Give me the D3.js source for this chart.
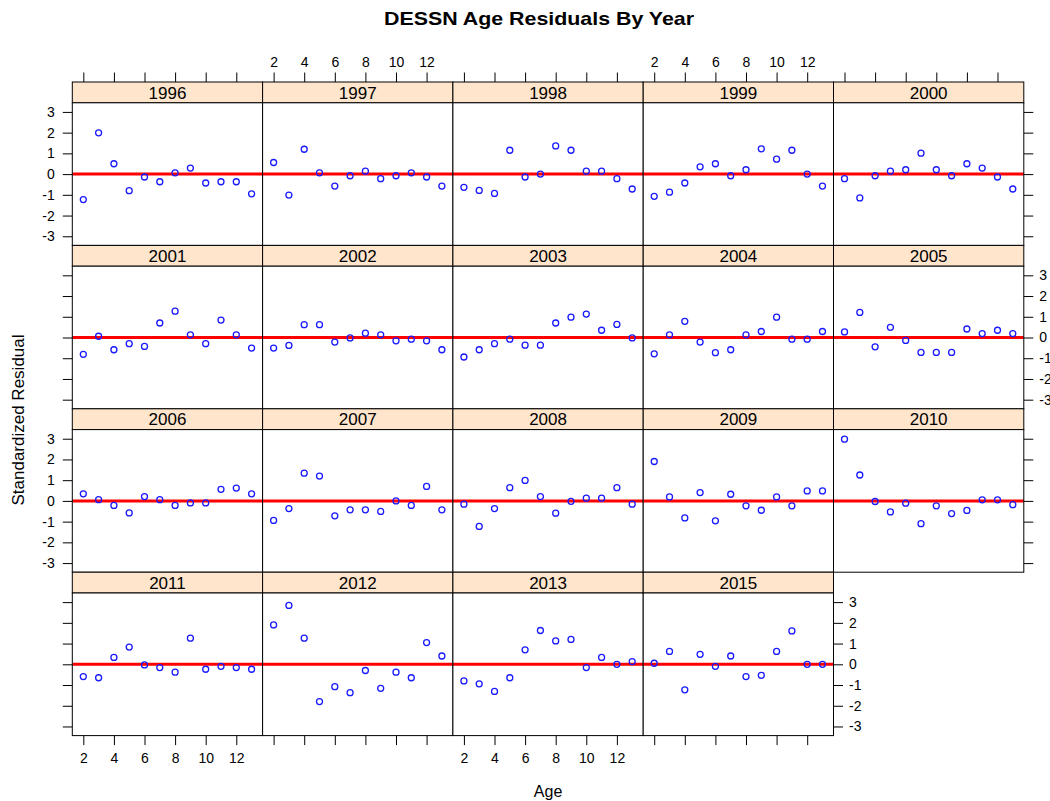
<!DOCTYPE html>
<html>
<head>
<meta charset="utf-8">
<script src="https://cdn.jsdelivr.net/npm/d3@7"></script>
<style>
  html, body { margin: 0; padding: 0; background: #fff; }
  svg { display: block; font-family: "Liberation Sans", Arial, sans-serif; }
</style>
</head>
<body>
<svg id="chart" width="1050" height="801"></svg>
<script>
// ---- data ----
const years = ["1996","1997","1998","1999","2000","2001","2002","2003","2004","2005",
               "2006","2007","2008","2009","2010","2011","2012","2013","2015"];
const ages = [2,3,4,5,6,7,8,9,10,11,12,13];
const yTicks = [-3,-2,-1,0,1,2,3];
const xTicks = [2,4,6,8,10,12];

const r1996 = [-1.23, 1.99, 0.50, -0.80, -0.14, -0.37, 0.06, 0.29, -0.43, -0.37, -0.37, -0.95];
const r1997 = [0.56, -1.01, 1.20, 0.06, -0.58, -0.08, 0.14, -0.22, -0.08, 0.06, -0.14, -0.58];
const r1998 = [-0.64, -0.79, -0.93, 1.15, -0.14, 0.00, 1.36, 1.15, 0.14, 0.14, -0.22, -0.72];
const r1999 = [-1.07, -0.87, -0.43, 0.35, 0.50, -0.08, 0.21, 1.22, 0.72, 1.15, 0.00, -0.58];
const r2000 = [-0.22, -1.15, -0.08, 0.14, 0.21, 1.01, 0.21, -0.08, 0.50, 0.29, -0.14, -0.72];
const r2001 = [-0.81, 0.06, -0.59, -0.30, -0.43, 0.70, 1.27, 0.13, -0.30, 0.84, 0.13, -0.51];
const r2002 = [-0.51, -0.38, 0.62, 0.62, -0.22, -0.02, 0.21, 0.13, -0.16, -0.08, -0.16, -0.59];
const r2003 = [-0.94, -0.59, -0.30, -0.08, -0.37, -0.37, 0.70, 0.98, 1.13, 0.35, 0.63, -0.02];
const r2004 = [-0.79, 0.13, 0.78, -0.22, -0.73, -0.59, 0.13, 0.29, 0.98, -0.08, -0.08, 0.29];
const r2005 = [0.27, 1.21, -0.45, 0.49, -0.14, -0.72, -0.72, -0.72, 0.41, 0.19, 0.35, 0.19];
const r2006 = [0.34, 0.06, -0.22, -0.58, 0.21, 0.06, -0.22, -0.10, -0.10, 0.56, 0.62, 0.34];
const r2007 = [-0.94, -0.37, 1.34, 1.20, -0.72, -0.43, -0.43, -0.51, 0.00, -0.22, 0.70, -0.43];
const r2008 = [-0.16, -1.23, -0.37, 0.64, 0.99, 0.21, -0.59, -0.02, 0.13, 0.13, 0.64, -0.16];
const r2009 = [1.90, 0.19, -0.82, 0.40, -0.96, 0.32, -0.24, -0.45, 0.19, -0.24, 0.48, 0.48];
const r2010 = [2.98, 1.25, -0.03, -0.53, -0.11, -1.10, -0.24, -0.61, -0.46, 0.05, 0.05, -0.18];
const r2011 = [-0.59, -0.65, 0.33, 0.83, -0.03, -0.16, -0.38, 1.26, -0.24, -0.10, -0.16, -0.24];
const r2012 = [1.90, 2.84, 1.26, -1.80, -1.08, -1.37, -0.30, -1.16, -0.38, -0.65, 1.05, 0.40];
const r2013 = [-0.80, -0.94, -1.31, -0.65, 0.70, 1.63, 1.13, 1.20, -0.16, 0.33, 0.00, 0.13];
const r2015 = [0.05, 0.62, -1.23, 0.48, -0.10, 0.40, -0.59, -0.53, 0.62, 1.61, 0.00, 0.00];

const residuals = [r1996, r1997, r1998, r1999, r2000, r2001, r2002, r2003, r2004, r2005,
                   r2006, r2007, r2008, r2009, r2010, r2011, r2012, r2013, r2015];

// ---- layout ----
const svg = d3.select("#chart");
const nCol = 5, nRow = 4;
const gridLeft = 72.3, colW = 190.3;
const gridTop = 82, rowH = 163.4, stripH = 20.8;
const panelH = rowH - stripH;
const tickLen = 9.5;
const axisFont = 14, stripFont = 17;

const x = d3.scaleLinear().domain([1.28, 13.72]).range([0, colW]);
const y = d3.scaleLinear().domain([-3.44, 3.44]).range([panelH, 0]);
const fmt = d => String(d);

// title
svg.append("text").attr("x", 539).attr("y", 25).attr("text-anchor", "middle")
  .attr("font-weight", "bold").attr("font-size", 19).attr("fill", "#000")
  .attr("textLength", 310).attr("lengthAdjust", "spacingAndGlyphs")
  .text("DESSN Age Residuals By Year");

// axis titles
svg.append("text").attr("x", gridLeft + nCol * colW / 2).attr("y", 797).attr("text-anchor", "middle")
  .attr("font-size", 16).attr("fill", "#000").text("Age");
svg.append("text").attr("transform", "translate(24,420) rotate(-90)").attr("text-anchor", "middle")
  .attr("font-size", 17).attr("fill", "#000").text("Standardized Residual");

svg.append("defs").append("clipPath").attr("id", "pclip")
  .append("rect").attr("x", 0).attr("y", 0).attr("width", colW).attr("height", panelH);

function styleAxis(g) {
  g.select(".domain").remove();
  g.selectAll(".tick line").attr("stroke", "#000").attr("stroke-width", 1);
  g.selectAll(".tick text").attr("fill", "#000").attr("font-size", axisFont)
    .attr("font-family", "\"Liberation Sans\", Arial, sans-serif");
}

years.forEach((yr, i) => {
  const col = i % nCol, row = Math.floor(i / nCol);
  const px = gridLeft + col * colW, py = gridTop + row * rowH;
  const g = svg.append("g").attr("transform", `translate(${px},${py})`);

  // strip
  g.append("rect").attr("x", 0).attr("y", 0).attr("width", colW).attr("height", stripH)
    .attr("fill", "#ffe5cc").attr("stroke", "#000").attr("stroke-width", 1);
  g.append("text").attr("x", colW / 2).attr("y", stripH / 2 + 6.3).attr("text-anchor", "middle")
    .attr("font-size", stripFont).attr("fill", "#000").text(yr);

  // panel
  const p = g.append("g").attr("transform", `translate(0,${stripH})`);
  p.append("rect").attr("width", colW).attr("height", panelH).attr("fill", "#fff");
  const inner = p.append("g").attr("clip-path", "url(#pclip)");
  inner.append("line").attr("x1", 0).attr("x2", colW).attr("y1", y(0)).attr("y2", y(0))
    .attr("stroke", "#ff0000").attr("stroke-width", 3);
  const vals = residuals[i];
  inner.selectAll("circle").data(ages.map((a, k) => ({ a, v: vals[k] }))).enter()
    .append("circle").attr("cx", d => x(d.a)).attr("cy", d => y(d.v)).attr("r", 3)
    .attr("fill", "none").attr("stroke", "#1a1aff").attr("stroke-width", 1.3);
  p.append("rect").attr("width", colW).attr("height", panelH).attr("fill", "none")
    .attr("stroke", "#000").attr("stroke-width", 1);

  // left axis (first column)
  if (col === 0) {
    const labelled = row % 2 === 0;
    const ax = d3.axisLeft(y).tickValues(yTicks).tickSize(tickLen).tickPadding(8)
      .tickFormat(labelled ? fmt : () => "");
    p.append("g").call(ax).call(styleAxis);
  }
  // right axis (last panel in row)
  const lastInRow = (col === nCol - 1) || (i === years.length - 1);
  if (lastInRow) {
    const labelled = row % 2 === 1;
    const ax = d3.axisRight(y).tickValues(yTicks).tickSize(tickLen).tickPadding(6)
      .tickFormat(labelled ? fmt : () => "");
    p.append("g").attr("transform", `translate(${colW},0)`).call(ax).call(styleAxis);
  }
  // top axis (first row)
  if (row === 0) {
    const labelled = col % 2 === 1;
    const ax = d3.axisTop(x).tickValues(xTicks).tickSize(tickLen).tickPadding(6)
      .tickFormat(labelled ? fmt : () => "");
    g.append("g").call(ax).call(styleAxis);
  }
  // bottom axis (last row)
  if (row === nRow - 1) {
    const labelled = col % 2 === 0;
    const ax = d3.axisBottom(x).tickValues(xTicks).tickSize(tickLen).tickPadding(8)
      .tickFormat(labelled ? fmt : () => "");
    p.append("g").attr("transform", `translate(0,${panelH})`).call(ax).call(styleAxis);
  }
});
</script>
</body>
</html>
